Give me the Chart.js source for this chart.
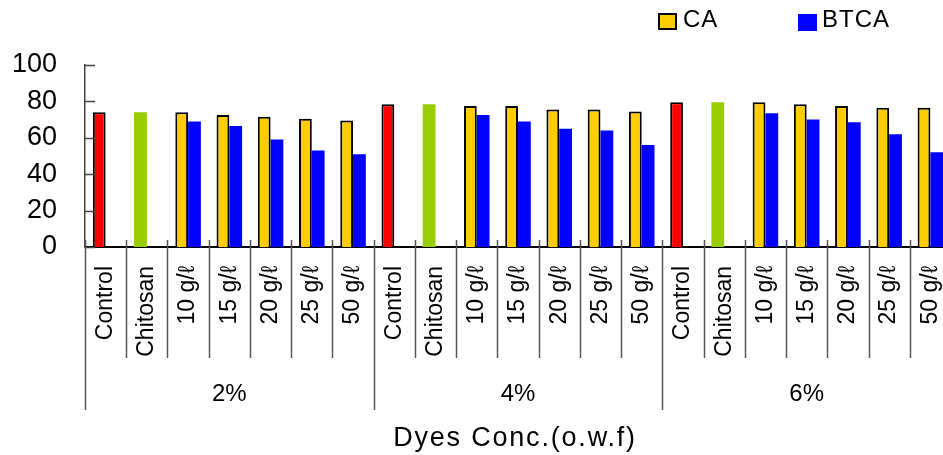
<!DOCTYPE html>
<html>
<head>
<meta charset="utf-8">
<script src="https://cdn.jsdelivr.net/npm/chart.js@4/dist/chart.umd.min.js"></script>
<style>
  html, body { margin: 0; padding: 0; background: #fff; overflow: hidden; }
  #wrap { width: 952px; height: 455px; position: relative; }
</style>
</head>
<body>
<div id="wrap"><canvas id="c"></canvas></div>
<script>
const groups = ['2%', '4%', '6%'];
const treatments = ['Control', 'Chitosan', '10 g/ℓ', '15 g/ℓ', '20 g/ℓ', '25 g/ℓ', '50 g/ℓ'];
const categories = [].concat(treatments, treatments, treatments);
const caValues = [74, 74, 74, 72.5, 71.5, 70.5, 69.5,
                  78.5, 78.5, 77.5, 77.5, 75.5, 75.5, 74.5,
                  79.5, 79.5, 79.5, 78.5, 77.5, 76.5, 76.5];
const btcaValues = [null, null, 69, 66.5, 59, 53, 51,
                    null, null, 72.5, 69, 65, 64, 56,
                    null, null, 73.5, 70, 68.5, 62, 52];
const yTicks = [0, 20, 40, 60, 80, 100];
const seriesNames = ['CA', 'BTCA'];
const xTitle = 'Dyes Conc.(o.w.f)';

const RED = '#FF0000', GREEN = '#99CC00', GOLD = '#FFCC00', BLUE = '#0000FF';
const caColors = categories.map(c => c === 'Control' ? RED : (c === 'Chitosan' ? GREEN : GOLD));
const caBorderW = categories.map(c => c === 'Chitosan' ? 0 : 2);
const FONT = '"Liberation Sans", Arial, sans-serif';

const decor = {
  id: 'decor',
  afterDraw(chart) {
    const ctx = chart.ctx;
    const xs = chart.scales.x, ys = chart.scales.y, ca = chart.chartArea;
    ctx.save();
    ctx.strokeStyle = '#444';
    ctx.lineWidth = 1.5;
    yTicks.forEach(v => {
      const y = Math.round(ys.getPixelForValue(v)) + 0.5;
      ctx.beginPath(); ctx.moveTo(ca.left, y); ctx.lineTo(ca.left + 10, y); ctx.stroke();
    });
    ctx.strokeStyle = '#555';
    ctx.lineWidth = 1.5;
    for (let i = 0; i <= categories.length; i++) {
      const x = Math.round(xs.getPixelForValue(i - 0.5)) + 0.5;
      const isGroup = i % treatments.length === 0;
      ctx.beginPath();
      ctx.moveTo(x, ca.bottom - 7);
      ctx.lineTo(x, isGroup ? 410 : 358);
      ctx.stroke();
    }
    ctx.fillStyle = '#000';
    ctx.font = '24px ' + FONT;
    ctx.textAlign = 'center';
    ctx.textBaseline = 'middle';
    groups.forEach((g, gi) => {
      const x0 = xs.getPixelForValue(gi * treatments.length - 0.5);
      const x1 = xs.getPixelForValue(gi * treatments.length + treatments.length - 0.5);
      ctx.fillText(g, (x0 + x1) / 2, 394);
    });
    ctx.font = '27px ' + FONT;
    ctx.letterSpacing = '1.8px';
    ctx.fillText(xTitle, (ca.left + ca.right) / 2 - 3, 439);
    ctx.font = '24px ' + FONT;
    ctx.letterSpacing = '1px';
    ctx.textAlign = 'left';
    ctx.fillStyle = GOLD;
    ctx.fillRect(659, 14, 17, 15);
    ctx.strokeStyle = '#000';
    ctx.lineWidth = 2;
    ctx.strokeRect(659, 14, 17, 15);
    ctx.fillStyle = '#000';
    ctx.fillText(seriesNames[0], 683, 20);
    ctx.fillStyle = BLUE;
    ctx.fillRect(798, 14, 19, 17);
    ctx.fillStyle = '#000';
    ctx.fillText(seriesNames[1], 822, 20);
    ctx.restore();
  }
};

new Chart(document.getElementById('c'), {
  type: 'bar',
  data: {
    labels: categories,
    datasets: [
      { label: seriesNames[0], data: caValues, backgroundColor: caColors,
        borderColor: '#000', borderWidth: caBorderW, borderSkipped: 'bottom' },
      { label: seriesNames[1], data: btcaValues, backgroundColor: BLUE, borderWidth: 0 }
    ]
  },
  options: {
    responsive: true,
    maintainAspectRatio: false,
    animation: false,
    datasets: { bar: { categoryPercentage: 0.62, barPercentage: 1 } },
    layout: { padding: { top: 65, right: 1, left: 0, bottom: 0 } },
    plugins: { legend: { display: false }, tooltip: { enabled: false } },
    scales: {
      x: {
        grid: { display: false, drawTicks: false },
        border: { display: true, color: '#000', width: 2 },
        ticks: { autoSkip: false, minRotation: 90, maxRotation: 90, padding: 19,
                 color: '#000', font: { family: FONT, size: 23 } },
        afterFit(s) { s.height = 208; s.paddingLeft = 0; s.paddingRight = 0; }
      },
      y: {
        min: 0, max: 100,
        afterBuildTicks(s) { s.ticks = yTicks.map(v => ({ value: v })); },
        grid: { display: false, drawTicks: false },
        border: { display: true, color: '#444', width: 1.5 },
        ticks: { padding: 28, color: '#000', font: { family: FONT, size: 27 } },
        afterFit(s) { s.width = 85; s.paddingTop = 0; s.paddingBottom = 0; }
      }
    }
  },
  plugins: [decor]
});
</script>
</body>
</html>
